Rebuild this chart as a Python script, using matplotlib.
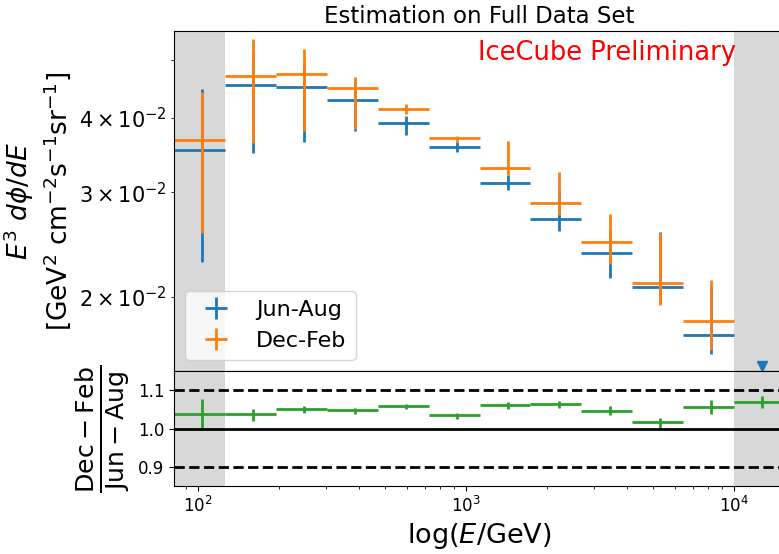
import numpy as np
import matplotlib
matplotlib.use('Agg')
import matplotlib.pyplot as plt

# log10 bin edges in GeV (first and last bins are under/overflow)
log_edges = [1.91, 2.10, 2.29, 2.48, 2.67, 2.86, 3.05, 3.24, 3.43, 3.62, 3.81, 4.00, 4.19]

jun_aug = [0.03534, 0.04551, 0.04516, 0.04295, 0.03919, 0.03572, 0.03103, 0.02700, 0.02367, 0.02075, 0.01725]
jun_aug_lo = [0.02286, 0.03486, 0.03645, 0.03804, 0.03745, 0.03499, 0.03020, 0.02580, 0.02149, 0.01950, 0.01603]
jun_aug_hi = [0.04482, 0.05164, 0.04905, 0.04628, 0.04026, 0.03645, 0.03200, 0.03024, 0.02590, 0.02570, 0.02080]

dec_feb = [0.03669, 0.04713, 0.04750, 0.04499, 0.04142, 0.03694, 0.03292, 0.02876, 0.02475, 0.02108, 0.01821]
dec_feb_lo = [0.02557, 0.03623, 0.03799, 0.03833, 0.04057, 0.03636, 0.03205, 0.02746, 0.02271, 0.01937, 0.01628]
dec_feb_hi = [0.04424, 0.05424, 0.05218, 0.04688, 0.04223, 0.03726, 0.03656, 0.03240, 0.02756, 0.02557, 0.02134]

overflow_limit = 0.0153

ratio = [1.0387, 1.0368, 1.052, 1.048, 1.058, 1.034, 1.061, 1.065, 1.0465, 1.016, 1.057, 1.070]
ratio_lo = [0.997, 1.019, 1.041, 1.039, 1.050, 1.025, 1.050, 1.053, 1.034, 1.0026, 1.039, 1.054]
ratio_hi = [1.078, 1.052, 1.060, 1.054, 1.064, 1.041, 1.069, 1.073, 1.058, 1.027, 1.074, 1.085]

edges = 10 ** np.array(log_edges)
lo_e = edges[:-1]
hi_e = edges[1:]
xc = (lo_e + hi_e) / 2
xerr = np.array([xc - lo_e, hi_e - xc])

n = len(jun_aug)

def yerr(v, lo, hi):
    v = np.array(v)
    return np.array([v - np.array(lo), np.array(hi) - v])

fig = plt.figure(figsize=(7.79, 5.54), dpi=100)
ax1 = fig.add_axes([0.2234, 0.3303, 0.7843, 0.6137])
ax2 = fig.add_axes([0.2234, 0.1227, 0.7843, 0.2076], sharex=ax1)

for ax in (ax1, ax2):
    ax.axvspan(edges[0], edges[1], color='grey', alpha=0.3, lw=0)
    ax.axvspan(edges[-2], edges[-1], color='grey', alpha=0.3, lw=0)

ax1.errorbar(xc[:n], jun_aug, xerr=xerr[:, :n], yerr=yerr(jun_aug, jun_aug_lo, jun_aug_hi),
             fmt='none', ecolor='tab:blue', elinewidth=2, label='Jun-Aug')
ax1.errorbar(xc[:n], dec_feb, xerr=xerr[:, :n], yerr=yerr(dec_feb, dec_feb_lo, dec_feb_hi),
             fmt='none', ecolor='tab:orange', elinewidth=2, label='Dec-Feb')
ax1.plot([xc[-1]], [overflow_limit], 'v', color='tab:blue', ms=7)

ax1.set_xscale('log')
ax1.set_yscale('log')
ax1.set_xlim(edges[0], edges[-1])
ax1.set_ylim(0.015, 0.056)
ax1.tick_params(labelbottom=False, labelsize=15)
ax1.tick_params(which='minor', labelsize=15)
ax1.set_ylabel('$E^3\\ d\\phi/dE$\n[GeV$^2$ cm$^{-2}$s$^{-1}$sr$^{-1}$]', fontsize=19)
ax1.set_title('Estimation on Full Data Set', fontsize=16.5)
ax1.text(0.4975, 0.975, 'IceCube Preliminary', color='red', fontsize=18.5,
         transform=ax1.transAxes, ha='left', va='top')
ax1.legend(loc='lower left', fontsize=16)

ax2.errorbar(xc, ratio, xerr=xerr, yerr=yerr(ratio, ratio_lo, ratio_hi),
             fmt='none', ecolor='tab:green', elinewidth=2)
ax2.axhline(1.0, color='black', lw=2)
ax2.axhline(1.1, color='black', lw=2, ls='--')
ax2.axhline(0.9, color='black', lw=2, ls='--')
ax2.set_ylim(0.85, 1.15)
ax2.set_yticks([0.9, 1.0, 1.1])
ax2.tick_params(labelsize=12)
ax2.set_ylabel('$\\frac{\\mathrm{Dec-Feb}}{\\mathrm{Jun-Aug}}$', fontsize=26)
ax2.set_xlabel('log($E$/GeV)', fontsize=19.5)

fig.savefig('out.png', dpi=100)
